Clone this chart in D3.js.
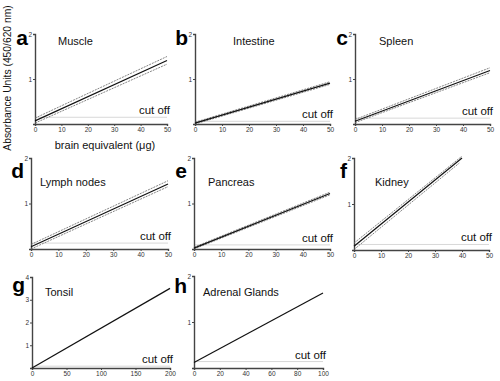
<!DOCTYPE html>
<html>
<head>
<meta charset="utf-8">
<script src="https://cdn.jsdelivr.net/npm/d3@7"></script>
<style>
  body { margin: 0; background: #fff; }
  svg { display: block; font-family: Helvetica, Arial, "Liberation Sans", sans-serif; }
  .axis path, .axis line { stroke: #444; }
  .axis text { fill: #333; font-size: 6.5px; }
</style>
</head>
<body>
<svg id="chart" width="500" height="381"></svg>
<script>

// ---- data ----
const panelLetters = ['a', 'b', 'c', 'd', 'e', 'f', 'g', 'h'];
const panelTitles = ['Muscle', 'Intestine', 'Spleen', 'Lymph nodes', 'Pancreas', 'Kidney', 'Tonsil', 'Adrenal Glands'];
const xMax = [50, 50, 50, 50, 50, 50, 200, 100];
const yMax = [2, 2, 2, 2, 2, 2, 4, 2];
const xTickStep = [10, 10, 10, 10, 10, 10, 50, 20];
// regression line: [x start, y start, x end, y end]
const fitLines = [
    [0, 0.07, 50, 1.41],
    [0, 0.02, 50, 0.91],
    [0, 0.06, 50, 1.19],
    [0, 0.05, 50, 1.43],
    [0, 0.02, 50, 1.22],
    [0, 0.08, 40, 2.0],
    [0, 0.0, 200, 3.5],
    [0, 0.12, 100, 1.63]
];
// 95% bands (null where not drawn)
const upperBand = [
    [0, 0.13, 50, 1.50],
    [0, 0.04, 50, 0.94],
    [0, 0.10, 50, 1.25],
    [0, 0.10, 50, 1.50],
    [0, 0.04, 50, 1.25],
    [0, 0.15, 40, 2.04],
    null,
    null
];
const lowerBand = [
    [0, 0.02, 50, 1.33],
    [0, 0.00, 50, 0.88],
    [0, 0.03, 50, 1.14],
    [0, 0.00, 50, 1.37],
    [0, 0.00, 50, 1.19],
    [0, 0.01, 39, 1.89],
    null,
    null
];
const cutOff = [0.15, 0.06, 0.13, 0.13, 0.09, 0.12, 0.08, 0.14];

// ---- layout (pixels) : [x0, x1, yBottom, yTop] ----
const frames = [
    [35, 167, 124, 34], [195, 330, 124, 34], [355, 490, 124, 34],
    [31, 168, 249, 158], [194, 330, 249, 158], [354, 489, 250, 158],
    [32, 170, 368, 277], [194, 323, 368, 276]
];
const letterBase = [45, 45, 45, 178, 178, 178, 292, 293];
const titlePos = [[58, 45], [233, 45], [379, 45], [40, 186], [208, 186], [375, 186], [45, 296], [203, 296]];

const svg = d3.select('#chart');

panelLetters.forEach(function(letter, i){
    const f = frames[i];
    const x = d3.scaleLinear().domain([0, xMax[i]]).range([f[0], f[1]]);
    const y = d3.scaleLinear().domain([0, yMax[i]]).range([f[2], f[3]]);
    const g = svg.append('g');

    // cut-off line
    g.append('line')
        .attr('x1', x(0)).attr('x2', x(xMax[i]))
        .attr('y1', y(cutOff[i])).attr('y2', y(cutOff[i]))
        .attr('stroke', '#d8d8d8').attr('stroke-width', 1);

    g.append('text')
        .attr('x', x(xMax[i]) + 3)
        .attr('y', y(cutOff[i]) - 3)
        .attr('text-anchor', 'end')
        .attr('font-size', 11.5)
        .attr('fill', '#111')
        .text('cut off');

    // axes
    const xTicks = d3.range(0, xMax[i] + 0.001, xTickStep[i]);
    const xAxis = d3.axisBottom(x).tickValues(xTicks).tickSize(2).tickPadding(1).tickFormat(d3.format('d'));
    g.append('g').attr('class', 'axis')
        .attr('transform', 'translate(0,' + f[2] + ')')
        .call(xAxis)
        .call(s => s.select('.domain').attr('stroke-width', 1.4));

    const yTicks = d3.range(0, yMax[i] + 0.001, 1);
    const yAxis = d3.axisLeft(y).tickValues(yTicks).tickSize(2).tickPadding(1)
        .tickFormat(d => d === 0 ? '' : d);
    g.append('g').attr('class', 'axis')
        .attr('transform', 'translate(' + f[0] + ',0)')
        .call(yAxis)
        .call(s => s.select('.domain').attr('stroke-width', 1.4));

    // bands
    [upperBand[i], lowerBand[i]].forEach(function(b){
        if (!b) return;
        g.append('line')
            .attr('x1', x(b[0])).attr('y1', y(b[1]))
            .attr('x2', x(b[2])).attr('y2', y(b[3]))
            .attr('stroke', '#666').attr('stroke-width', 0.8)
            .attr('stroke-dasharray', '2,1');
    });

    // regression line
    const fl = fitLines[i];
    g.append('line')
        .attr('x1', x(fl[0])).attr('y1', y(fl[1]))
        .attr('x2', x(fl[2])).attr('y2', y(fl[3]))
        .attr('stroke', '#111').attr('stroke-width', 1.2);

    // letter + title
    g.append('text')
        .attr('x', f[0] - 7)
        .attr('y', letterBase[i])
        .attr('text-anchor', 'end')
        .attr('font-size', 21)
        .attr('font-weight', 'bold')
        .attr('fill', '#000')
        .text(letter);

    g.append('text')
        .attr('x', titlePos[i][0])
        .attr('y', titlePos[i][1])
        .attr('font-size', 11)
        .attr('fill', '#111')
        .text(panelTitles[i]);
});

// shared axis titles
svg.append('text')
    .attr('transform', 'translate(11,78) rotate(-90)')
    .attr('text-anchor', 'middle')
    .attr('font-size', 10.3)
    .attr('fill', '#111')
    .text('Absorbance Units (450/620 nm)');

svg.append('text')
    .attr('x', 105)
    .attr('y', 149)
    .attr('text-anchor', 'middle')
    .attr('font-size', 11)
    .attr('fill', '#111')
    .text('brain equivalent (\u03BCg)');

</script>
</body>
</html>
